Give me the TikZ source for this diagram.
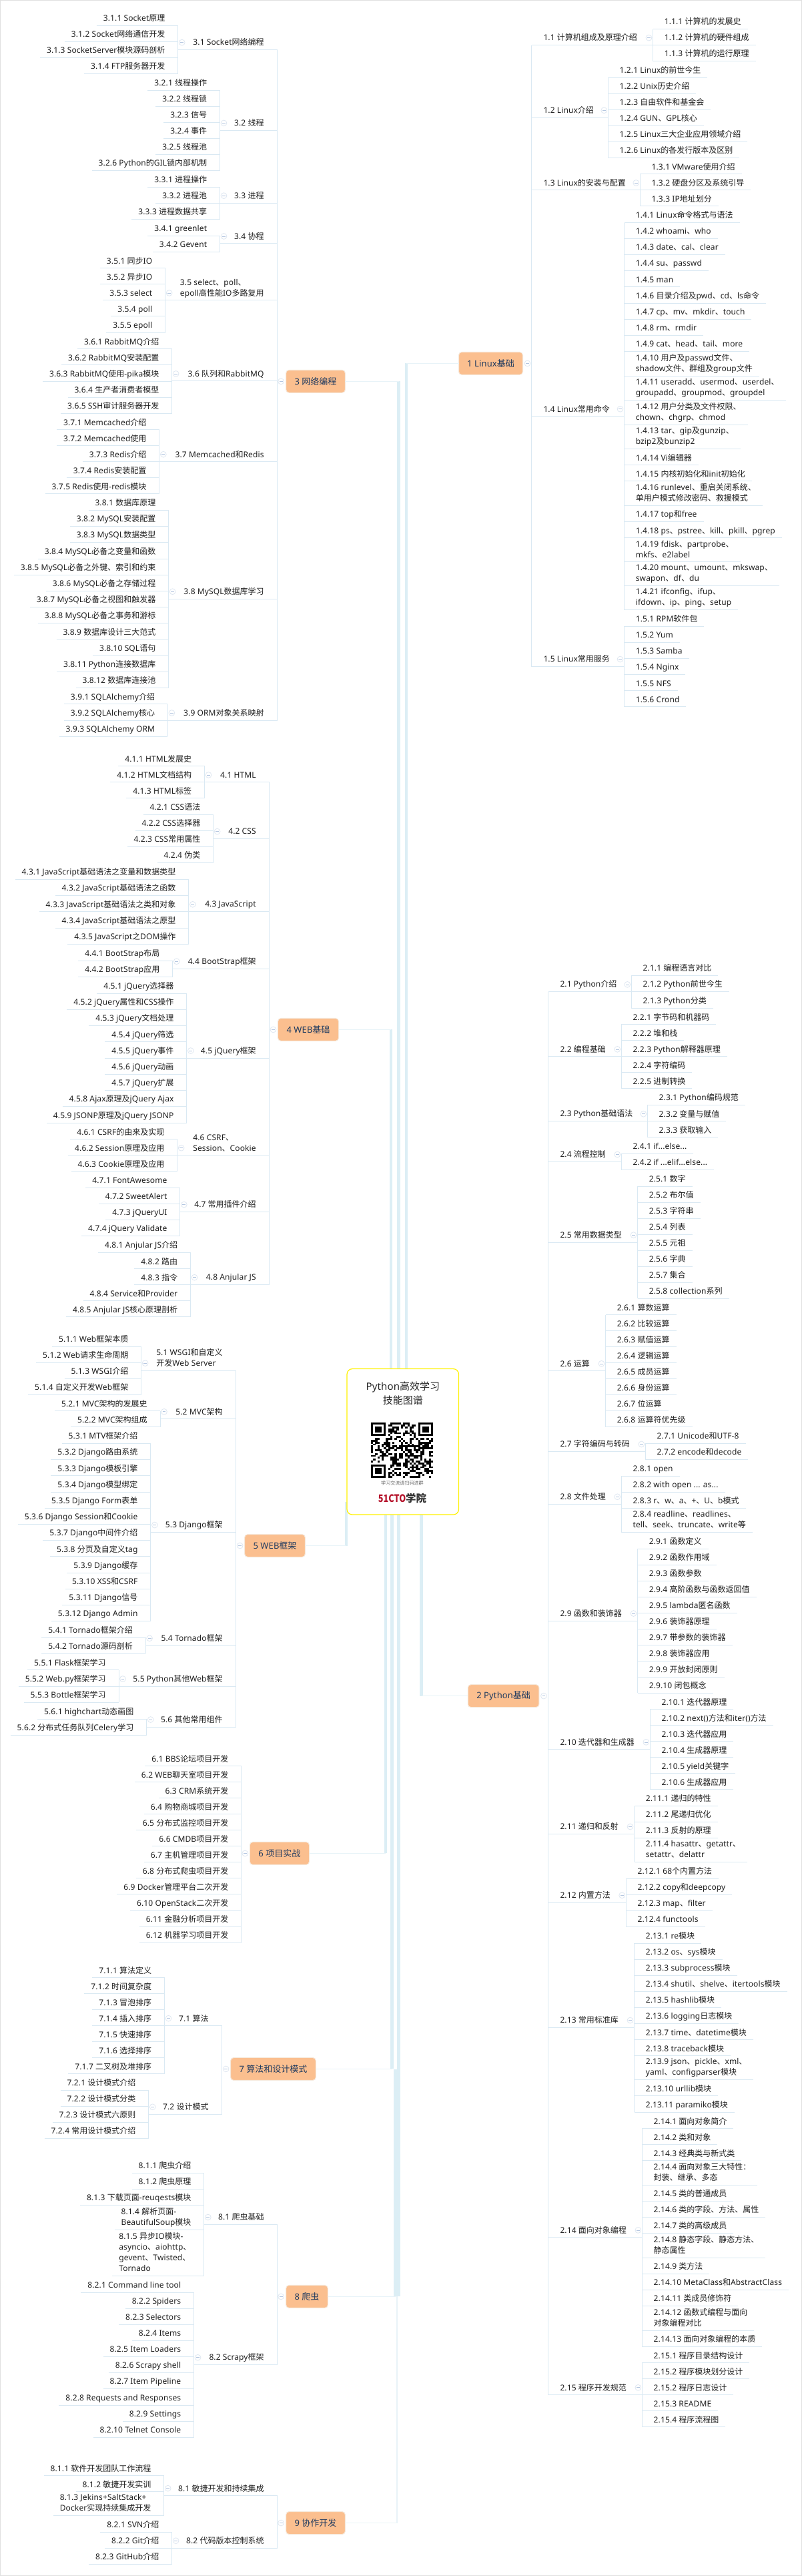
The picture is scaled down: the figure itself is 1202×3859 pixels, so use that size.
\documentclass[tikz,border=0pt]{standalone}
\usepackage{fontspec}
\usepackage{graphicx}
\setmainfont[LetterSpace=1]{Noto Sans}
\newfontfamily\latinf[LetterSpace=1]{Noto Sans}
\newfontfamily\cjkf{Noto Sans CJK SC}
\usetikzlibrary{calc}
% hanzi and their punctuation come from the CJK family
\newXeTeXintercharclass\hanclass
\newcount\hanchar
\hanchar="4E00
\loop
  \XeTeXcharclass\hanchar=\hanclass
  \advance\hanchar by 1
\ifnum\hanchar<"A000 \repeat
\XeTeXcharclass"3001=\hanclass
\XeTeXcharclass"FF1A=\hanclass
\XeTeXinterchartoks 0 \hanclass={\cjkf}
\XeTeXinterchartoks \hanclass 0={\latinf}
\XeTeXinterchartoks 4095 \hanclass={\cjkf}
\XeTeXinterchartoks 4095 0={\latinf}
\XeTeXinterchartokenstate=1
\definecolor{wirecol}{HTML}{DAE9F3}
\definecolor{stemcol}{HTML}{DCEEF5}
\definecolor{twigcol}{HTML}{E8F3F8}
\definecolor{topiccol}{HTML}{FBBF8F}
\definecolor{topicedge}{HTML}{F6E8DA}
\definecolor{topictext}{HTML}{1F3A5F}
\definecolor{dotcol}{HTML}{DFE7F1}
\definecolor{dashcol}{HTML}{B4C6E0}
\newcommand*{\rowstrut}{\rule[-2pt]{0pt}{12pt}}
\newcommand*{\dotdot}{...}
\newcommand*{\logotext}{\begingroup\XeTeXinterchartokenstate=0\relax\cjkf\bfseries\fontsize{11.6}{14}\selectfont\textcolor[HTML]{B5122A}{\scalebox{0.82}[1]{51CTO}}\textcolor[HTML]{333333}{学院}\endgroup}
\tikzset{
  wire/.style={draw=wirecol, line width=0.75pt},
  stem/.style={draw=stemcol, line width=3.4pt},
  twig/.style={draw=twigcol, line width=1.1pt},
  row/.style={inner xsep=0pt, inner ysep=3pt, outer sep=0pt, align=left, text=black!88,
    font=\fontsize{9}{12}\selectfont, execute at begin node=\rowstrut, execute at end node=\rowstrut},
  topic/.style={fill=topiccol, draw=topicedge, line width=0.75pt, rounded corners=3.5pt, text=topictext,
    minimum height=25.5pt, inner sep=0pt, outer sep=0pt, font=\fontsize{9.75}{12}\selectfont},
  fold/.style={circle, draw=dotcol, fill=white, line width=0.6pt, minimum size=6.6pt, inner sep=0pt,
    path picture={\draw[dashcol, line width=0.5pt] ([xshift=-1.8pt]path picture bounding box.center) -- ([xshift=1.8pt]path picture bounding box.center);}},
  blank/.style={inner sep=0pt, outer sep=0pt}
}
% rows of one branch, stacked under the row drawn last
\newcommand*{\rowsL}[3]{
  \coordinate (#1-brk) at (#2,0);
  \node [blank] (#1-0) at ($(\prevrow.south -| #1-brk)+(-20,0)$) {};
  \foreach \txt [count=\i, remember=\i as \j (initially 0)] in {#3} {
    \node [row, anchor=north east] (#1-\i) at (#1-\j.south east) {\txt};
    \draw [wire] ($(#1-\i.south west)+(-10,0)$) -- (#1-\i.south -| #1-brk);
    \xdef\lastrow{\i}
  }
  \draw [wire] (#1-1.south -| #1-brk) -- (#1-\lastrow.south -| #1-brk);
  \coordinate (#1-mid) at ($(#1-0.south)!0.5!(#1-\lastrow.south)$);
  \xdef\prevrow{#1-\lastrow}
}
\newcommand*{\rowsR}[3]{
  \coordinate (#1-brk) at (#2,0);
  \node [blank] (#1-0) at ($(\prevrow.south -| #1-brk)+(18,0)$) {};
  \foreach \txt [count=\i, remember=\i as \j (initially 0)] in {#3} {
    \node [row, anchor=north west] (#1-\i) at (#1-\j.south west) {\txt};
    \draw [wire] (#1-\i.south -| #1-brk) -- ($(#1-\i.south east)+(10,0)$);
    \xdef\lastrow{\i}
  }
  \draw [wire] (#1-1.south -| #1-brk) -- (#1-\lastrow.south -| #1-brk);
  \coordinate (#1-mid) at ($(#1-0.south)!0.5!(#1-\lastrow.south)$);
  \xdef\prevrow{#1-\lastrow}
}
% id, spine, bracket x, parent text, rows
\newcommand*{\branchL}[5]{
  \rowsL{#1}{#3}{#5}
  \node [row, anchor=south east] (#1) at ($(#1-mid -| #2)+(-20,12)$) {#4};
  \draw [wire] (#1.south -| #1-brk) -- (#1.south -| #2);
  \node [fold] (#1-dot) at ($(#1.south -| #1-brk)+(6,-11)$) {};
}
\newcommand*{\branchR}[5]{
  \rowsR{#1}{#3}{#5}
  \node [row, anchor=south west] (#1) at ($(#1-mid -| #2)+(18,12)$) {#4};
  \draw [wire] (#1.south -| #2) -- (#1.south -| #1-brk);
  \node [fold] (#1-dot) at ($(#1.south -| #1-brk)+(-6,-11)$) {};
}
\newcommand*{\trunk}[2]{
  \draw [stem] (#1) -- (#2.center -| #1);
  \draw [twig] (#2.center -| #1) -- (#2);
}
\newcommand*{\finder}[2]{
  \fill [white] (#1-3.2,#2-2.8) rectangle ++(28.9,25.5);
  \fill [black] (#1,#2) rectangle ++(22.4,19.8);
  \fill [white] (#1+3.2,#2+2.8) rectangle ++(16,14.2);
  \fill [black] (#1+6.4,#2+5.7) rectangle ++(9.6,8.5);
}

\begin{document}
\begin{tikzpicture}[x=0.75pt, y=-0.75pt]
    \useasboundingbox (0,0) rectangle (1202,3859);
    \draw [draw=black!12, fill=white, line width=0.75pt] (0.5,0.5) rectangle (1201.5,3858.5);

    \node [topic, minimum width=72pt] (t1) at (735.5,544.4) {1 Linux基础};
    \node [topic, minimum width=80pt] (t2) at (754.6,2540.6) {2 Python基础};
    \node [topic, minimum width=66.6pt] (t3) at (473,571.3) {3 网络编程};
    \node [topic, minimum width=68.3pt] (t4) at (462,1542.4) {4 WEB基础};
    \node [topic, minimum width=68pt] (t5) at (412,2315.5) {5 WEB框架};
    \node [topic, minimum width=66.9pt] (t6) at (418.9,2776.4) {6 项目实战};
    \node [topic, minimum width=95.8pt] (t7) at (409.5,3099.4) {7 算法和设计模式};
    \node [topic, minimum width=47.1pt] (t8) at (460,3440.4) {8 爬虫};
    \node [topic, minimum width=66.6pt] (t9) at (473,3779.5) {9 协作开发};

    \coordinate (k1) at (609,2100);
    \coordinate (k2) at (631.6,2200);
    \coordinate (k3) at (597.5,2100);
    \coordinate (k4) at (586,2100);
    \coordinate (k5) at (518.8,2249.6);
    \coordinate (k6) at (578.2,2200);
    \coordinate (k7) at (587.7,2200);
    \coordinate (k8) at (592.5,3100);
    \coordinate (k9) at (597.5,2200);
    \trunk{k1}{t1}
    \trunk{k2}{t2}
    \trunk{k3}{t3}
    \trunk{k4}{t4}
    \trunk{k5}{t5}
    \trunk{k6}{t6}
    \trunk{k7}{t7}
    \trunk{k8}{t8}
    \draw [stem] (k9) -- (t8.center -| k9);
    \coordinate (k9a) at (595,3440.4);
    \draw [twig] (k9a) -- (t9.center -| k9a) -- (t9);

    % 1 Linux
    \coordinate (sp1) at (796.5,0);
    \node [blank] (top1) at (0,18.3) {};
    \xdef\prevrow{top1}
    \branchR{g11}{sp1}{978.5}{1.1 计算机组成及原理介绍}{1.1.1 计算机的发展史,1.1.2 计算机的硬件组成,1.1.3 计算机的运行原理}
    \branchR{g12}{sp1}{911.3}{1.2 Linux介绍}{1.2.1 Linux的前世今生,1.2.2 Unix历史介绍,1.2.3 自由软件和基金会,1.2.4 GUN、GPL核心,1.2.5 Linux三大企业应用领域介绍,1.2.6 Linux的各发行版本及区别}
    \branchR{g13}{sp1}{959.3}{1.3 Linux的安装与配置}{1.3.1 VMware使用介绍,1.3.2 硬盘分区及系统引导,1.3.3 IP地址划分}
    \branchR{g14}{sp1}{935.5}{1.4 Linux常用命令}{1.4.1 Linux命令格式与语法,1.4.2 whoami、who,1.4.3 date、cal、clear,1.4.4 su、passwd,1.4.5 man,1.4.6 目录介绍及pwd、cd、ls命令,1.4.7 cp、mv、mkdir、touch,1.4.8 rm、rmdir,1.4.9 cat、head、tail、more,1.4.10 用户及passwd文件、\\shadow文件、群组及group文件,1.4.11 useradd、usermod、userdel、\\groupadd、groupmod、groupdel,1.4.12 用户分类及文件权限、\\chown、chgrp、chmod,1.4.13 tar、gip及gunzip、\\bzip2及bunzip2,1.4.14 Vi编辑器,1.4.15 内核初始化和init初始化,1.4.16 runlevel、重启关闭系统、\\单用户模式修改密码、救援模式,1.4.17 top和free,1.4.18 ps、pstree、kill、pkill、pgrep,1.4.19 fdisk、partprobe、\\mkfs、e2label,1.4.20 mount、umount、mkswap、\\swapon、df、du,1.4.21 ifconfig、ifup、\\ifdown、ip、ping、setup}
    \branchR{g15}{sp1}{935.5}{1.5 Linux常用服务}{1.5.1 RPM软件包,1.5.2 Yum,1.5.3 Samba,1.5.4 Nginx,1.5.5 NFS,1.5.6 Crond}
    \draw [wire] (g11.south -| sp1) -- (g15.south -| sp1);
    \node [fold] (t1-dot) at ($(t1.east)+(7,0)$) {};

    % 2 Python
    \coordinate (sp2) at (821.5,0);
    \node [blank] (top2) at (0,1436.3) {};
    \xdef\prevrow{top2}
    \branchR{g21}{sp2}{946.3}{2.1 Python介绍}{2.1.1 编程语言对比,2.1.2 Python前世今生,2.1.3 Python分类}
    \branchR{g22}{sp2}{931.3}{2.2 编程基础}{2.2.1 字节码和机器码,2.2.2 堆和栈,2.2.3 Python解释器原理,2.2.4 字符编码,2.2.5 进制转换}
    \branchR{g23}{sp2}{970.4}{2.3 Python基础语法}{2.3.1 Python编码规范,2.3.2 变量与赋值,2.3.3 获取输入}
    \branchR{g24}{sp2}{931.3}{2.4 流程控制}{2.4.1 if\dotdot{}else\dotdot,2.4.2 if \dotdot{}elif\dotdot{}else\dotdot}
    \branchR{g25}{sp2}{955.5}{2.5 常用数据类型}{2.5.1 数字,2.5.2 布尔值,2.5.3 字符串,2.5.4 列表,2.5.5 元祖,2.5.6 字典,2.5.7 集合,2.5.8 collection系列}
    \branchR{g26}{sp2}{907.5}{2.6 运算}{2.6.1 算数运算,2.6.2 比较运算,2.6.3 赋值运算,2.6.4 逻辑运算,2.6.5 成员运算,2.6.6 身份运算,2.6.7 位运算,2.6.8 运算符优先级}
    \branchR{g27}{sp2}{967.4}{2.7 字符编码与转码}{2.7.1 Unicode和UTF-8,2.7.2 encode和decode}
    \branchR{g28}{sp2}{931.3}{2.8 文件处理}{2.8.1 open,2.8.2 with open \dotdot{} as\dotdot,2.8.3 r、w、a、+、U、b模式,2.8.4 readline、readlines、\\tell、seek、truncate、write等}
    \branchR{g29}{sp2}{955.5}{2.9 函数和装饰器}{2.9.1 函数定义,2.9.2 函数作用域,2.9.3 函数参数,2.9.4 高阶函数与函数返回值,2.9.5 lambda匿名函数,2.9.6 装饰器原理,2.9.7 带参数的装饰器,2.9.8 装饰器应用,2.9.9 开放封闭原则,2.9.10 闭包概念}
    \branchR{g210}{sp2}{974.3}{2.10 迭代器和生成器}{2.10.1 迭代器原理,2.10.2 next()方法和iter()方法,2.10.3 迭代器应用,2.10.4 生成器原理,2.10.5 yield关键字,2.10.6 生成器应用}
    \branchR{g211}{sp2}{950.5}{2.11 递归和反射}{2.11.1 递归的特性,2.11.2 尾递归优化,2.11.3 反射的原理,2.11.4 hasattr、getattr、\\setattr、delattr}
    \branchR{g212}{sp2}{938.2}{2.12 内置方法}{2.12.1 68个内置方法,2.12.2 copy和deepcopy,2.12.3 map、filter,2.12.4 functools}
    \branchR{g213}{sp2}{950.5}{2.13 常用标准库}{2.13.1 re模块,2.13.2 os、sys模块,2.13.3 subprocess模块,2.13.4 shutil、shelve、itertools模块,2.13.5 hashlib模块,2.13.6 logging日志模块,2.13.7 time、datetime模块,2.13.8 traceback模块,2.13.9 json、pickle、xml、\\yaml、configparser模块,2.13.10 urllib模块,2.13.11 paramiko模块}
    \branchR{g214}{sp2}{962.4}{2.14 面向对象编程}{2.14.1 面向对象简介,2.14.2 类和对象,2.14.3 经典类与新式类,2.14.4 面向对象三大特性：\\封装、继承、多态,2.14.5 类的普通成员,2.14.6 类的字段、方法、属性,2.14.7 类的高级成员,2.14.8 静态字段、静态方法、\\静态属性,2.14.9 类方法,2.14.10 MetaClass和AbstractClass,2.14.11 类成员修饰符,2.14.12 函数式编程与面向\\对象编程对比,2.14.13 面向对象编程的本质}
    \branchR{g215}{sp2}{962.4}{2.15 程序开发规范}{2.15.1 程序目录结构设计,2.15.2 程序模块划分设计,2.15.2 程序日志设计,2.15.3 README,2.15.4 程序流程图}
    \draw [wire] (g21.south -| sp2) -- (g215.south -| sp2);
    \node [fold] (t2-dot) at ($(t2.east)+(7,0)$) {};

    % 3 network
    \coordinate (sp3) at (415.6,0);
    \node [blank] (top3) at (0,13.3) {};
    \xdef\prevrow{top3}
    \branchL{g31}{sp3}{266.7}{3.1 Socket网络编程}{3.1.1 Socket原理,3.1.2 Socket网络通信开发,3.1.3 SocketServer模块源码剖析,3.1.4 FTP服务器开发}
    \branchL{g32}{sp3}{329.5}{3.2 线程}{3.2.1 线程操作,3.2.2 线程锁,3.2.3 信号,3.2.4 事件,3.2.5 线程池,3.2.6 Python的GIL锁内部机制}
    \branchL{g33}{sp3}{329.5}{3.3 进程}{3.3.1 进程操作,3.3.2 进程池,3.3.3 进程数据共享}
    \branchL{g34}{sp3}{329.5}{3.4 协程}{3.4.1 greenlet,3.4.2 Gevent}
    \branchL{g35}{sp3}{247.6}{3.5 select、poll、\\epoll高性能IO多路复用}{3.5.1 同步IO,3.5.2 异步IO,3.5.3 select,3.5.4 poll,3.5.5 epoll}
    \branchL{g36}{sp3}{257.6}{3.6 队列和RabbitMQ}{3.6.1 RabbitMQ介绍,3.6.2 RabbitMQ安装配置,3.6.3 RabbitMQ使用-pika模块,3.6.4 生产者消费者模型,3.6.5 SSH审计服务器开发}
    \branchL{g37}{sp3}{238.8}{3.7 Memcached和Redis}{3.7.1 Memcached介绍,3.7.2 Memcached使用,3.7.3 Redis介绍,3.7.4 Redis安装配置,3.7.5 Redis使用-redis模块}
    \branchL{g38}{sp3}{252.6}{3.8 MySQL数据库学习}{3.8.1 数据库原理,3.8.2 MySQL安装配置,3.8.3 MySQL数据类型,3.8.4 MySQL必备之变量和函数,3.8.5 MySQL必备之外键、索引和约束,3.8.6 MySQL必备之存储过程,3.8.7 MySQL必备之视图和触发器,3.8.8 MySQL必备之事务和游标,3.8.9 数据库设计三大范式,3.8.10 SQL语句,3.8.11 Python连接数据库,3.8.12 数据库连接池}
    \branchL{g39}{sp3}{251.4}{3.9 ORM对象关系映射}{3.9.1 SQLAlchemy介绍,3.9.2 SQLAlchemy核心,3.9.3 SQLAlchemy ORM}
    \draw [wire] (g31.south -| sp3) -- (g39.south -| sp3);
    \node [fold] (t3-dot) at ($(t3.west)+(-7.5,0)$) {};

    % 4 web basics
    \coordinate (sp4) at (403.7,0);
    \node [blank] (top4) at (0,1122.6) {};
    \xdef\prevrow{top4}
    \branchL{g41}{sp4}{306.5}{4.1 HTML}{4.1.1 HTML发展史,4.1.2 HTML文档结构,4.1.3 HTML标签}
    \branchL{g42}{sp4}{319.6}{4.2 CSS}{4.2.1 CSS语法,4.2.2 CSS选择器,4.2.3 CSS常用属性,4.2.4 伪类}
    \branchL{g43}{sp4}{282.8}{4.3 JavaScript}{4.3.1 JavaScript基础语法之变量和数据类型,4.3.2 JavaScript基础语法之函数,4.3.3 JavaScript基础语法之类和对象,4.3.4 JavaScript基础语法之原型,4.3.5 JavaScript之DOM操作}
    \branchL{g44}{sp4}{258.7}{4.4 BootStrap框架}{4.4.1 BootStrap布局,4.4.2 BootStrap应用}
    \branchL{g45}{sp4}{279.8}{4.5 jQuery框架}{4.5.1 jQuery选择器,4.5.2 jQuery属性和CSS操作,4.5.3 jQuery文档处理,4.5.4 jQuery筛选,4.5.5 jQuery事件,4.5.6 jQuery动画,4.5.7 jQuery扩展,4.5.8 Ajax原理及jQuery Ajax,4.5.9 JSONP原理及jQuery JSONP}
    \branchL{g46}{sp4}{265.6}{4.6 CSRF、\\Session、Cookie}{4.6.1 CSRF的由来及实现,4.6.2 Session原理及应用,4.6.3 Cookie原理及应用}
    \branchL{g47}{sp4}{269.8}{4.7 常用插件介绍}{4.7.1 FontAwesome,4.7.2 SweetAlert,4.7.3 jQueryUI,4.7.4 jQuery Validate}
    \branchL{g48}{sp4}{285.5}{4.8 Anjular JS}{4.8.1 Anjular JS介绍,4.8.2 路由,4.8.3 指令,4.8.4 Service和Provider,4.8.5 Anjular JS核心原理剖析}
    \draw [wire] (g41.south -| sp4) -- (g48.south -| sp4);
    \node [fold] (t4-dot) at ($(t4.west)+(-7,0)$) {};

    % 5 web frameworks
    \coordinate (sp5) at (353.6,0);
    \node [blank] (top5) at (0,1991.8) {};
    \xdef\prevrow{top5}
    \branchL{g51}{sp5}{211.6}{5.1 WSGI和自定义\\开发Web Server}{5.1.1 Web框架本质,5.1.2 Web请求生命周期,5.1.3 WSGI介绍,5.1.4 自定义开发Web框架}
    \branchL{g52}{sp5}{240}{5.2 MVC架构}{5.2.1 MVC架构的发展史,5.2.2 MVC架构组成}
    \branchL{g53}{sp5}{225.8}{5.3 Django框架}{5.3.1 MTV框架介绍,5.3.2 Django路由系统,5.3.3 Django模板引擎,5.3.4 Django模型绑定,5.3.5 Django Form表单,5.3.6 Django Session和Cookie,5.3.7 Django中间件介绍,5.3.8 分页及自定义tag,5.3.9 Django缓存,5.3.10 XSS和CSRF,5.3.11 Django信号,5.3.12 Django Admin}
    \branchL{g54}{sp5}{218.1}{5.4 Tornado框架}{5.4.1 Tornado框架介绍,5.4.2 Tornado源码剖析}
    \branchL{g55}{sp5}{178}{5.5 Python其他Web框架}{5.5.1 Flask框架学习,5.5.2 Web.py框架学习,5.5.3 Bottle框架学习}
    \branchL{g56}{sp5}{219.7}{5.6 其他常用组件}{5.6.1 highchart动态画图,5.6.2 分布式任务队列Celery学习}
    \draw [wire] (g51.south -| sp5) -- (g56.south -| sp5);
    \node [fold] (t5-dot) at ($(t5.west)+(-7,0)$) {};

    % 6 projects
    \node [blank] (top6) at (0,2620.6) {};
    \xdef\prevrow{top6}
    \rowsL{g6}{361.6}{6.1 BBS论坛项目开发,6.2 WEB聊天室项目开发,6.3 CRM系统开发,6.4 购物商城项目开发,6.5 分布式监控项目开发,6.6 CMDB项目开发,6.7 主机管理项目开发,6.8 分布式爬虫项目开发,6.9 Docker管理平台二次开发,6.10 OpenStack二次开发,6.11 金融分析项目开发,6.12 机器学习项目开发}
    \node [fold] (t6-dot) at ($(t6.west)+(-7,0)$) {};

    % 7 algorithms
    \coordinate (sp7) at (332.6,0);
    \node [blank] (top7) at (0,2937.3) {};
    \xdef\prevrow{top7}
    \branchL{g71}{sp7}{246.5}{7.1 算法}{7.1.1 算法定义,7.1.2 时间复杂度,7.1.3 冒泡排序,7.1.4 插入排序,7.1.5 快速排序,7.1.6 选择排序,7.1.7 二叉树及堆排序}
    \branchL{g72}{sp7}{222.7}{7.2 设计模式}{7.2.1 设计模式介绍,7.2.2 设计模式分类,7.2.3 设计模式六原则,7.2.4 常用设计模式介绍}
    \draw [wire] (g71.south -| sp7) -- (g72.south -| sp7);
    \node [fold] (t7-dot) at ($(t7.west)+(-7,0)$) {};

    % 8 crawler
    \coordinate (sp8) at (415.6,0);
    \node [blank] (top8) at (0,3230.2) {};
    \xdef\prevrow{top8}
    \branchL{g81}{sp8}{305.8}{8.1 爬虫基础}{8.1.1 爬虫介绍,8.1.2 爬虫原理,8.1.3 下载页面-reuqests模块,8.1.4 解析页面-\\BeautifulSoup模块,8.1.5 异步IO模块-\\asyncio、aiohttp、\\gevent、Twisted、\\Tornado}
    \branchL{g82}{sp8}{290.5}{8.2 Scrapy框架}{8.2.1 Command line tool,8.2.2 Spiders,8.2.3 Selectors,8.2.4 Items,8.2.5 Item Loaders,8.2.6 Scrapy shell,8.2.7 Item Pipeline,8.2.8 Requests and Responses,8.2.9 Settings,8.2.10 Telnet Console}
    \draw [wire] (g81.south -| sp8) -- (g82.south -| sp8);
    \node [fold] (t8-dot) at ($(t8.west)+(-7.5,0)$) {};

    % 9 teamwork
    \coordinate (sp9) at (415.6,0);
    \node [blank] (top9) at (0,3683.4) {};
    \xdef\prevrow{top9}
    \branchL{g91}{sp9}{245.7}{8.1 敏捷开发和持续集成}{8.1.1 软件开发团队工作流程,8.1.2 敏捷开发实训,8.1.3 Jekins+SaltStack+\\Docker实现持续集成开发}
    \branchL{g92}{sp9}{257.6}{8.2 代码版本控制系统}{8.2.1 SVN介绍,8.2.2 Git介绍,8.2.3 GitHub介绍}
    \draw [wire] (g91.south -| sp9) -- (g92.south -| sp9);
    \node [fold] (t9-dot) at ($(t9.west)+(-7.5,0)$) {};

    % centre card
    \node [draw=yellow, fill=white, line width=0.9pt, rounded corners=6pt, minimum width=125.6pt, minimum height=163.8pt, inner sep=0pt] (root) at (603.75,2159.8) {};
    \node [align=center, font=\fontsize{11.25}{15.5}\selectfont, text=black!85, inner sep=0pt] (title) at (603.8,2087) {Python高效学习\\技能图谱};
    \pgfmathsetseed{51}
    \begin{scope}[shift={(556,2131.4)}]
        \foreach \c in {0,...,28} {
            \foreach \r in {0,...,28} {
                \pgfmathrandominteger{\q}{0}{1}
                \ifnum\q=1
                    \fill [black] (\c*3.207,\r*2.83) rectangle ++(3.3,2.9);
                \fi
            }
        }
        \finder{0}{0}
        \finder{70.6}{0}
        \finder{0}{62.3}
    \end{scope}
    \node [font=\fontsize{5.3}{6}\selectfont, text=black!60, inner sep=0pt] (scan) at (603,2221.7) {学习交流请扫码进群};
    \node [inner sep=0pt] (logo) at (603,2245) {\logotext};
\end{tikzpicture}
\end{document}
